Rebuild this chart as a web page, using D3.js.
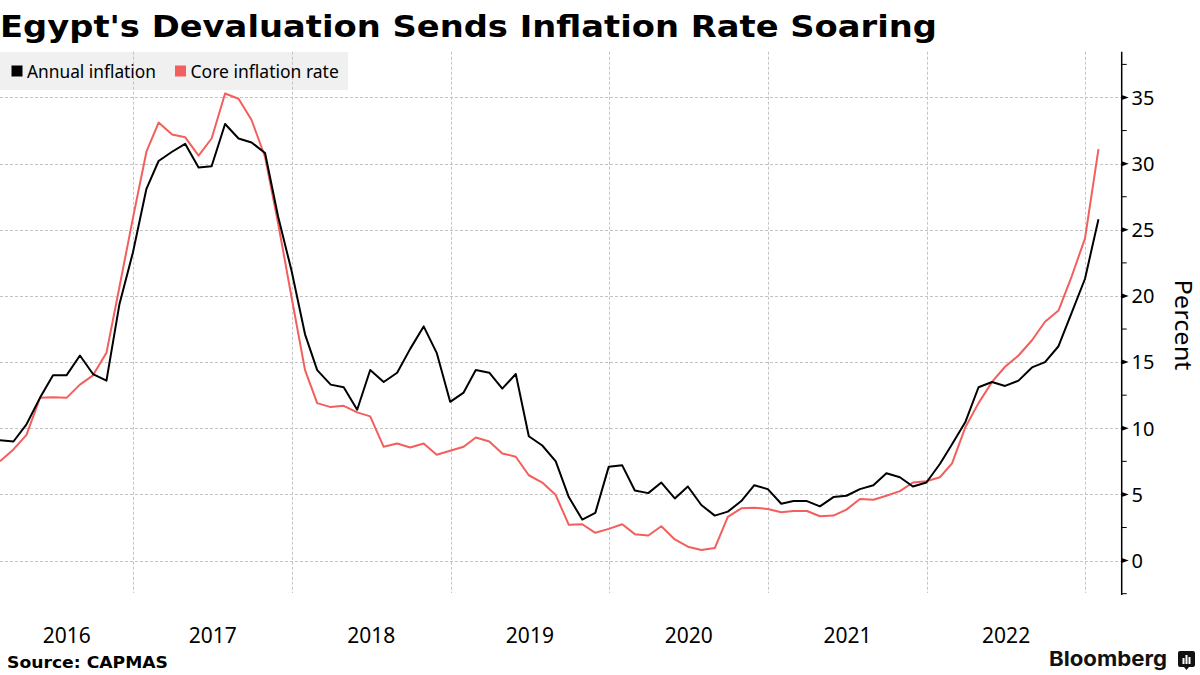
<!DOCTYPE html>
<html>
<head>
<meta charset="utf-8">
<script src="https://cdn.jsdelivr.net/npm/d3@7"></script>
<style>
  html, body { margin: 0; padding: 0; background: #ffffff; }
  svg { display: block; }
</style>
</head>
<body>
<svg id="chart" width="1200" height="675"></svg>
<script>
// ---------------- DATA ----------------
const titleText = "Egypt's Devaluation Sends Inflation Rate Soaring";
const sourceText = "Source: CAPMAS";
const yAxisTitle = "Percent";
const seriesNames = ["Annual inflation", "Core inflation rate"];
const seriesColors = ["#000000", "#f25f5c"];
const firstMonth = [2016, 2];   // Feb 2016 (monthly, plotted at month end)
const yearLabels = ["2016", "2017", "2018", "2019", "2020", "2021", "2022", "2023"];
const yTicks = [0, 5, 10, 15, 20, 25, 30, 35];

// Annual (headline urban) inflation, Feb 2016 .. Jan 2023
const annualInflation = [
  9.1, 9.0, 10.3, 12.3, 14.0, 14.0, 15.5, 14.1, 13.6, 19.4, 23.3,
  28.1, 30.2, 30.9, 31.5, 29.7, 29.8, 33.0, 31.9, 31.6, 30.8, 26.0, 21.9,
  17.1, 14.4, 13.3, 13.1, 11.4, 14.4, 13.5, 14.2, 16.0, 17.7, 15.7, 12.0,
  12.7, 14.4, 14.2, 13.0, 14.1, 9.4, 8.7, 7.5, 4.8, 3.1, 3.6, 7.1,
  7.2, 5.3, 5.1, 5.9, 4.7, 5.6, 4.2, 3.4, 3.7, 4.5, 5.7, 5.4,
  4.3, 4.5, 4.5, 4.1, 4.8, 4.9, 5.4, 5.7, 6.6, 6.3, 5.6, 5.9,
  7.3, 8.8, 10.5, 13.1, 13.5, 13.2, 13.6, 14.6, 15.0, 16.2, 18.7, 21.3,
  25.8
];
// Core inflation rate, Feb 2016 .. Jan 2023
const coreInflation = [
  7.5, 8.4, 9.5, 12.3, 12.35, 12.3, 13.3, 14.0, 15.7, 20.7, 25.9,
  30.9, 33.1, 32.2, 32.0, 30.6, 31.9, 35.3, 34.9, 33.3, 30.5, 25.5, 19.9,
  14.4, 11.9, 11.6, 11.7, 11.2, 10.9, 8.6, 8.85, 8.55, 8.85, 8.0, 8.3,
  8.6, 9.3, 9.0, 8.1, 7.85, 6.45, 5.9, 4.95, 2.7, 2.75, 2.1, 2.4,
  2.75, 2.0, 1.9, 2.6, 1.6, 1.05, 0.8, 0.95, 3.3, 3.95, 4.0, 3.9,
  3.65, 3.75, 3.75, 3.35, 3.4, 3.85, 4.65, 4.6, 4.9, 5.25, 5.9, 6.0,
  6.3, 7.35, 10.1, 11.9, 13.5, 14.65, 15.5, 16.65, 18.05, 18.9, 21.45, 24.35,
  31.1
];

// month-end dates for each observation
const dates = annualInflation.map((_, i) => new Date(Date.UTC(firstMonth[0], firstMonth[1] + i, 0)));

// ---------------- LAYOUT ----------------
const svg = d3.select("#chart");
const plotLeft = 0, plotRight = 1121.5, plotTop = 51.7, plotBottom = 595;
const labelFont = "'Noto Sans', 'Liberation Sans', sans-serif";

const x = d3.scaleUtc()
  .domain([new Date(Date.UTC(2016, 1, 29)), new Date(Date.UTC(2023, 2, 25))])
  .range([plotLeft, plotRight]);
const y = d3.scaleLinear().domain([-2.6, 38.46]).range([plotBottom, plotTop]);

function fit(sel, target) {
  const w = sel.node().getComputedTextLength();
  if (w > 0 && Math.abs(w - target) > 1) {
    sel.attr("textLength", target).attr("lengthAdjust", "spacingAndGlyphs");
  }
  return sel;
}

// Title
fit(svg.append("text")
  .attr("x", 0).attr("y", 37)
  .attr("font-family", "'DejaVu Sans', Verdana, sans-serif")
  .attr("font-weight", "bold").attr("font-size", 30)
  .attr("fill", "#000").text(titleText), 937);

// Legend background
svg.append("rect").attr("x", 0).attr("y", 52).attr("width", 348).attr("height", 38)
  .attr("fill", "#f0f0f0");

// Gridlines
const grid = svg.append("g").attr("stroke", "#c4c4c4").attr("stroke-width", 1)
  .attr("stroke-dasharray", "3,2").attr("fill", "none");
grid.selectAll("line.h").data(yTicks).join("line")
  .attr("x1", plotLeft).attr("x2", plotRight)
  .attr("y1", d => Math.round(y(d)) + 0.5).attr("y2", d => Math.round(y(d)) + 0.5);
const yearStarts = yearLabels.map(s => new Date(Date.UTC(+s, 0, 1)));
grid.selectAll("line.v").data(yearStarts.filter(d => x(d) > plotLeft + 1 && x(d) < plotRight - 1)).join("line")
  .attr("x1", d => Math.round(x(d)) + 0.5).attr("x2", d => Math.round(x(d)) + 0.5)
  .attr("y1", plotTop).attr("y2", plotBottom - 2);

// Legend items
const legendItems = [
  { name: seriesNames[0], color: seriesColors[0], sx: 11.5, tx: 27, w: 129 },
  { name: seriesNames[1], color: seriesColors[1], sx: 175, tx: 190.5, w: 149 }
];
legendItems.forEach(it => {
  svg.append("rect").attr("x", it.sx).attr("y", 65.5).attr("width", 11).attr("height", 11)
    .attr("fill", it.color);
  fit(svg.append("text").attr("x", it.tx).attr("y", 78)
    .attr("font-family", labelFont).attr("font-size", 17.5).attr("fill", "#000")
    .text(it.name), it.w);
});

// Lines
const lineGen = vals => d3.line()
  .x((d, i) => x(dates[i]))
  .y(d => y(d))(vals);
svg.append("clipPath").attr("id", "plotclip").append("rect")
  .attr("x", plotLeft).attr("y", plotTop).attr("width", plotRight - plotLeft).attr("height", plotBottom - plotTop);
svg.append("path").attr("d", lineGen(coreInflation))
  .attr("fill", "none").attr("stroke", seriesColors[1]).attr("stroke-width", 2)
  .attr("stroke-linejoin", "round").attr("clip-path", "url(#plotclip)");
svg.append("path").attr("d", lineGen(annualInflation))
  .attr("fill", "none").attr("stroke", seriesColors[0]).attr("stroke-width", 2)
  .attr("stroke-linejoin", "round").attr("clip-path", "url(#plotclip)");

// Right axis
const ax = 1121.7;
svg.append("line").attr("x1", ax).attr("x2", ax).attr("y1", plotTop).attr("y2", plotBottom)
  .attr("stroke", "#000").attr("stroke-width", 1.5);
const minorTicks = d3.range(-2.5, 38.5, 2.5).filter(v => v % 5 !== 0);
svg.selectAll("line.minor").data(minorTicks).join("line")
  .attr("x1", ax).attr("x2", ax + 5)
  .attr("y1", d => y(d)).attr("y2", d => y(d))
  .attr("stroke", "#000").attr("stroke-width", 1);
svg.selectAll("path.major").data(yTicks).join("path")
  .attr("d", d => `M${ax},${y(d) - 2.5}L${ax + 7},${y(d)}L${ax},${y(d) + 2.5}Z`)
  .attr("fill", "#000");
svg.selectAll("text.ytick").data(yTicks).join("text")
  .attr("x", 1131.5).attr("y", d => y(d) + 7.3)
  .attr("font-family", labelFont).attr("font-size", 20).attr("fill", "#000")
  .text(d => d);

// Y axis title
fit(svg.append("text")
  .attr("transform", "translate(1175,325) rotate(90)")
  .attr("text-anchor", "middle")
  .attr("font-family", labelFont).attr("font-size", 24).attr("fill", "#000")
  .text(yAxisTitle), 91);

// X axis year labels (centered in the visible part of each year)
yearLabels.forEach(s => {
  const a = Math.max(x(new Date(Date.UTC(+s, 0, 1))), plotLeft);
  const b = Math.min(x(new Date(Date.UTC(+s + 1, 0, 1))), plotRight);
  if (b - a < 80) return;
  svg.append("text").attr("x", (a + b) / 2).attr("y", 643)
    .attr("text-anchor", "middle")
    .attr("font-family", labelFont).attr("font-size", 21).attr("fill", "#000")
    .text(s);
});

// Source
fit(svg.append("text").attr("x", 7).attr("y", 668)
  .attr("font-family", "'DejaVu Sans', Verdana, sans-serif").attr("font-weight", "bold")
  .attr("font-size", 15).attr("fill", "#000")
  .text(sourceText), 161);

// Bloomberg logo
fit(svg.append("text").attr("x", 1049).attr("y", 666)
  .attr("font-family", "Inter, 'Noto Sans', sans-serif").attr("font-weight", "bold")
  .attr("font-size", 20.5).attr("fill", "#111").text("Bloomberg"), 118);
const logo = svg.append("g").attr("transform", "translate(1178,651)");
logo.append("path")
  .attr("d", "M2,0H15Q17,0 17,2V14Q17,16 15,16H11L8.5,19L6,16H2Q0,16 0,14V2Q0,0 2,0Z")
  .attr("fill", "#111");
[[4.5, 7, 6], [7.5, 4, 9], [10.5, 6, 7]].forEach(([bx, by, bh]) => {
  logo.append("rect").attr("x", bx).attr("y", by).attr("width", 2).attr("height", bh).attr("fill", "#fff");
});
</script>
</body>
</html>
